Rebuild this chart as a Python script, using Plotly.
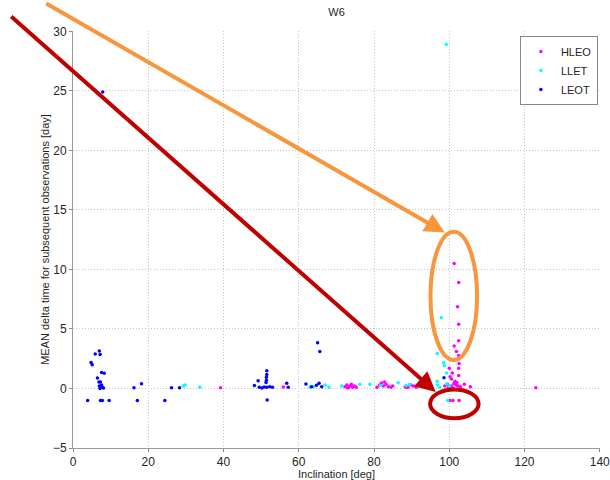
import plotly.graph_objects as go

# Mean revisit interval vs. orbital inclination, per orbit class
hleo_incl = [39.2, 55.9, 72.3, 72.8, 73.3, 73.8, 74.3, 74.8, 75.3, 73.0, 74.0,
             80.8, 81.5, 82.0, 82.5, 83.2, 83.8, 84.5, 85.0, 82.8, 88.6,
             88.3, 89.0, 89.8, 90.5, 91.2, 91.8,
             101.3, 102.5, 102.2, 102.5, 102.5, 101.3, 101.9, 102.5, 101.5, 102.6,
             100.0, 102.5, 100.2, 102.5, 101.5, 100.8, 101.2, 101.8, 102.3, 100.5,
             99.8, 103.0, 101.0, 102.0, 104.0, 105.6, 99.5, 100.6, 98.8,
             100.2, 101.0, 102.6, 123.0]
hleo_dt = [0.06, 0.12, 0.15, 0.3, 0.1, 0.25, 0.1, 0.2, 0.1, 0.05, 0.35,
           0.1, 0.3, 0.45, 0.2, 0.35, 0.15, 0.1, 0.2, 0.55, 0.1,
           0.15, 0.1, 0.3, 0.2, 0.1, 0.25,
           10.5, 8.9, 6.86, 5.4, 4.0, 3.56, 3.1, 2.78, 2.44, 2.1,
           1.69, 1.69, 0.98, 1.1, 0.6, 1.3, 0.4, 0.3, 0.2, 0.2,
           0.1, 0.15, 0.05, 0.5, 0.35, 0.15, 0.35, 0.8, 0.2,
           -1.0, -1.0, -1.0, 0.06]

llet_incl = [29.3, 29.8, 33.7, 63.0, 64.0, 67.0, 68.0, 71.4, 76.2, 78.9, 81.8,
             86.4, 88.5, 89.5, 97.9, 96.8, 98.5, 98.7, 99.3, 96.8, 96.8, 99.3,
             97.5, 100.0, 99.6, 99.2]
llet_dt = [0.2, 0.3, 0.1, 0.1, 0.15, 0.3, 0.1, 0.2, 0.35, 0.35, 0.25,
           0.48, 0.25, 0.35, 5.94, 2.94, 2.16, 1.9, 1.3, 0.6, 0.3, 0.4,
           0.1, 0.2, -1.0, 28.9]

leot_incl = [7.0, 7.2, 5.9, 4.8, 5.1, 7.6, 8.3, 6.5, 6.9, 7.3, 7.0, 7.4, 7.8,
             8.1, 7.2, 7.6, 3.9, 7.3, 7.8, 9.6, 16.2, 18.2, 17.1, 24.4, 26.2,
             28.3, 7.9, 65.0, 65.6, 51.5, 51.5, 51.4, 51.4, 51.3, 49.2, 48.2,
             49.5, 50.2, 50.8, 51.5, 52.3, 53.0, 51.6, 56.8, 57.2, 61.9, 63.4,
             64.7, 65.4, 66.1, 98.6]
leot_dt = [3.14, 2.86, 2.9, 2.19, 1.99, 1.35, 1.27, 0.87, 0.54, 0.54, 0.2, 0.15,
           0.1, 0.05, 0.0, 0.3, -1.0, -1.0, -1.0, -1.0, 0.06, 0.4, -1.0, -1.0,
           0.06, 0.06, 24.9, 3.84, 3.11, 1.49, 1.18, 0.95, 0.7, 0.5, 0.65, 0.26,
           0.1, 0.05, 0.12, 0.1, 0.15, 0.1, -0.97, 0.43, 0.1, 0.37, 0.15,
           0.28, 0.43, 0.15, 0.9]

x_ticks = [0, 20, 40, 60, 80, 100, 120, 140]
y_ticks = [-5, 0, 5, 10, 15, 20, 25, 30]

series = [
    ("HLEO", hleo_incl, hleo_dt, "#ff00ff"),
    ("LLET", llet_incl, llet_dt, "#00ffff"),
    ("LEOT", leot_incl, leot_dt, "#0000ff"),
]

fig = go.Figure()
for name, xs, ys, col in series:
    fig.add_trace(go.Scatter(
        x=xs, y=ys, mode="markers", name=name,
        marker=dict(color=col, size=3.5, symbol="circle", line=dict(width=0)),
        cliponaxis=False,
    ))

axis_font = dict(family="Liberation Sans, Arial, sans-serif", size=12, color="#262626")
fig.update_layout(
    width=610, height=480,
    margin=dict(l=73, r=10, t=31, b=32),
    paper_bgcolor="white", plot_bgcolor="white",
    font=axis_font,
    title=dict(text="W6", x=(73 + 600) / 2 / 610, xanchor="center",
               y=1 - 12 / 480, yanchor="middle",
               font=dict(family="Liberation Sans, Arial, sans-serif", size=11, color="#262626")),
    showlegend=True,
    legend=dict(x=0.996, xanchor="right", y=0.988, yanchor="top",
                bgcolor="white", bordercolor="#888888", borderwidth=1,
                font=dict(size=11, color="#262626"), itemwidth=30,
                tracegroupgap=0),
)
grid_dash = "1px,2px"
fig.update_xaxes(
    range=[0, 140.06], tickvals=x_ticks, ticks="outside", ticklen=3,
    tickcolor="#888888", showline=True, linecolor="#999999", linewidth=1,
    showgrid=True, gridcolor="#c4c4c4", griddash=grid_dash, gridwidth=1,
    zeroline=False, mirror=False, ticklabeloverflow="allow", automargin=False,
    title=dict(text="Inclination [deg]", font=dict(size=11, color="#262626"), standoff=0),
)
fig.update_yaxes(
    range=[-5, 30.03], tickvals=y_ticks, ticks="outside", ticklen=3,
    tickcolor="#888888", showline=True, linecolor="#999999", linewidth=1,
    showgrid=True, gridcolor="#c4c4c4", griddash=grid_dash, gridwidth=1,
    zeroline=False, mirror=False, automargin=False,
    title=dict(text="MEAN delta time for subsequent observations [day]",
               font=dict(size=11, color="#262626"), standoff=1),
)

orange = "#f7963c"
darkred = "#c00000"

# Callout arrows pointing at the high-inclination group
fig.add_annotation(x=98.8, y=13.1, xref="x", yref="y", ax=-400, ay=-230,
                   showarrow=True, arrowhead=2, arrowsize=1, arrowwidth=4,
                   arrowcolor=orange, text="")
fig.add_annotation(x=96.4, y=-0.3, xref="x", yref="y", ax=-426, ay=-377,
                   showarrow=True, arrowhead=2, arrowsize=1, arrowwidth=4,
                   arrowcolor=darkred, text="")

# Ellipses around the highlighted groups
fig.add_shape(type="circle", xref="x", yref="y", x0=95.0, x1=107.4, y0=2.39, y1=13.16,
              line=dict(color=orange, width=4))
fig.add_shape(type="circle", xref="x", yref="y", x0=94.9, x1=107.8, y0=-2.5, y1=-0.08,
              line=dict(color=darkred, width=4))

fig.write_html("out.html")
